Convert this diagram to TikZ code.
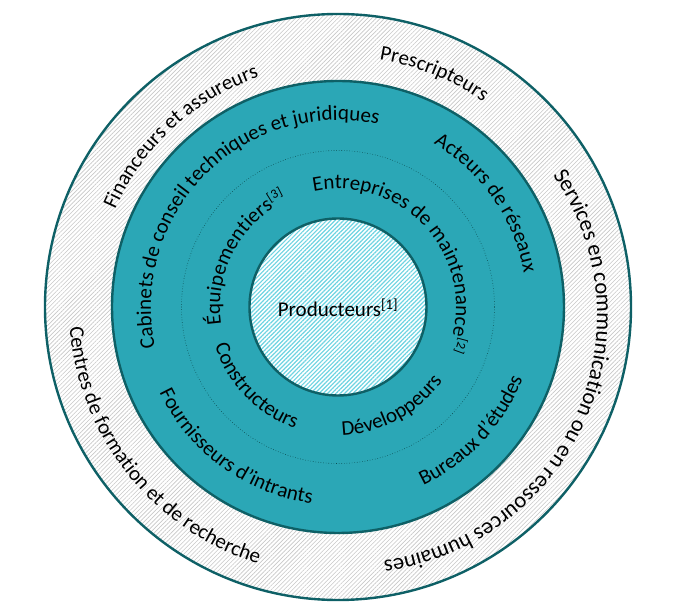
\documentclass[tikz,border=0pt]{standalone}
\usepackage{fontspec}
\setmainfont{Carlito}
\usepackage{tikz}
\usetikzlibrary{decorations.text, patterns.meta}
\definecolor{ringteal}{RGB}{43,167,182}
\definecolor{ringedge}{RGB}{14,96,102}
\definecolor{hatchgrey}{RGB}{200,200,200}
\definecolor{hatchcyan}{RGB}{110,212,226}
\newcommand{\ringfont}{\fontsize{21}{25}\selectfont}
\newcommand{\wideringfont}{\fontsize{22.5}{27}\selectfont}
\newcommand{\notefont}{\fontsize{13}{15}\selectfont}

\begin{document}
\begin{tikzpicture}[
  x=1pt, y=1pt,
  every node/.style={font=\ringfont},
  ring/.style      = {draw=ringedge, line width=2.4pt},
  outerring/.style = {ring, preaction={fill=white}, pattern={Lines[angle=45, distance=3pt, line width=0.6pt]}, pattern color=hatchgrey},
  midring/.style   = {ring, fill=ringteal},
  core/.style      = {ring, preaction={fill=white}, pattern={Lines[angle=45, distance=3pt, line width=1.2pt]}, pattern color=hatchcyan},
  split/.style     = {draw=ringedge!80!black, line width=0.6pt, dotted},
  arctext/.style   = {decorate, decoration={text along path, text align=center, text={|\ringfont|#1}}},
  widetext/.style  = {decorate, decoration={text along path, text align=center, text={|\wideringfont|#1}}},
  endtext/.style   = {decorate, decoration={text along path, text align=right, text={|\ringfont|#1}}},
  notetext/.style  = {decorate, decoration={text along path, text align=left, raise=7pt, text={|\notefont|#1}}}
]
\useasboundingbox (-338,-308) rectangle (335,307);

%% rings
\path[outerring] (0,0) circle[radius=293];
\path[midring]   (0,0) circle[radius=226];
\path[split]     (0,0) circle[radius=156.5];
\path[core]      (0,0) circle[radius=88.5];

\node (prod) at (0,-1) {Producteurs\textsuperscript{[1]}};

%% outer ring, clockwise
\path[arctext={Financeurs et assureurs}] (222.7:243) arc[start angle=222.7, end angle=42.7, radius=243];
\path[arctext={Prescripteurs}] (157.6:251) arc[start angle=157.6, end angle=-22.4, radius=251];
\path[shift={(12,-9)}, widetext={Services en communication ou en ressources humaines}] (66.3:247) arc[start angle=66.3, end angle=-113.7, radius=247];
%% outer ring, counter-clockwise
\path[arctext={Centres de formation et de recherche}] (-231.5:269) arc[start angle=-231.5, end angle=-51.5, radius=269];

%% teal ring
\path[arctext={Cabinets de conseil techniques et juridiques}] (225:187) arc[start angle=225, end angle=45, radius=187];
\path[arctext={Acteurs de réseaux}] (125:189) arc[start angle=125, end angle=-55, radius=189];
\path[arctext={Fournisseurs d’intrants}] (-216:198) arc[start angle=-216, end angle=-36, radius=198];
\path[arctext={Bureaux d’études}] (-132.8:198) arc[start angle=-132.8, end angle=47.2, radius=198];

%% inner band
\path[endtext={Entreprises de maintenance}] (166:118) arc[start angle=166, end angle=-14, radius=118];
\path[notetext={[2]}] (-14:118) arc[start angle=-14, end angle=-74, radius=118];
\path[endtext={Équipementiers}] (303:118) arc[start angle=303, end angle=123, radius=118];
\path[notetext={[3]}] (123:118) arc[start angle=123, end angle=63, radius=118];
\path[arctext={Constructeurs}] (-226:129) arc[start angle=-226, end angle=-46, radius=129];
\path[arctext={Développeurs}] (-151.7:128) arc[start angle=-151.7, end angle=28.3, radius=128];
\end{tikzpicture}
\end{document}
